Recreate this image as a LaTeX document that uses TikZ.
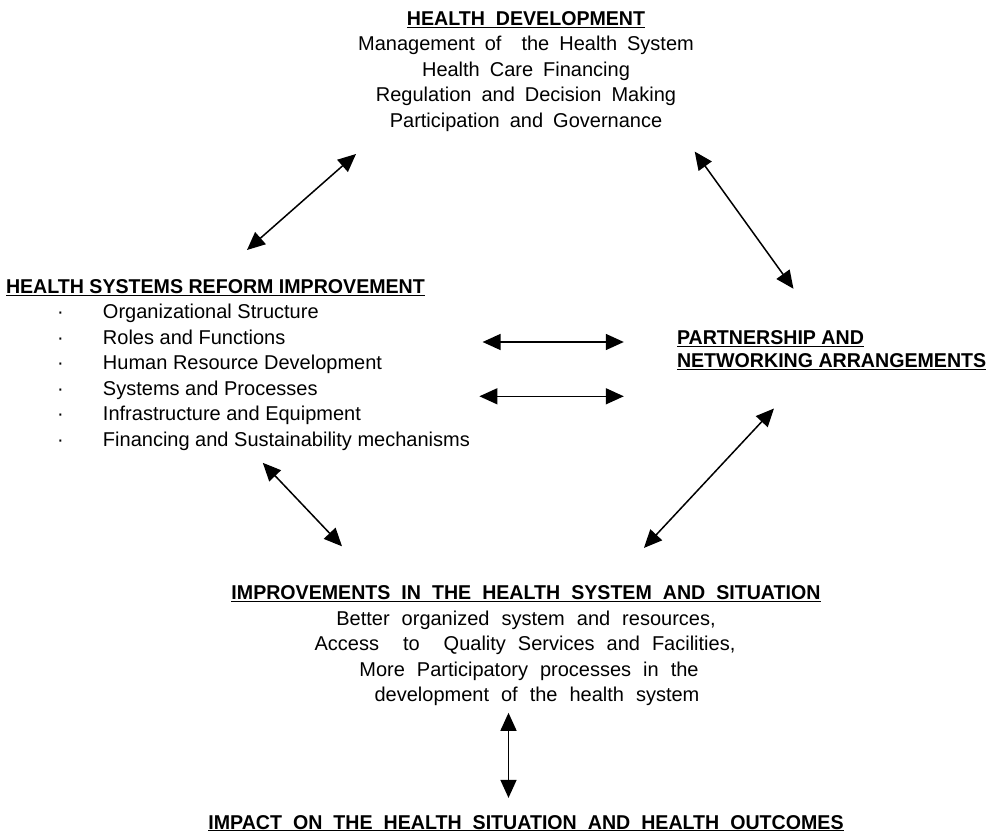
\documentclass[tikz,border=0pt]{standalone}
\usepackage{fontspec}
\setmainfont[BoldFeatures={FakeStretch=0.98}]{Liberation Sans}
\usetikzlibrary{arrows.meta}

\tikzset{
  txt/.style={anchor=base, inner sep=0pt, outer sep=0pt, font=\fontsize{20}{24}\selectfont},
  item/.style={txt, anchor=base west},
  wide/.style={txt, font={\fontsize{20}{24}\selectfont\spaceskip=10pt plus 1pt minus 1pt\relax}},
  wider/.style={txt, font={\fontsize{20}{24}\selectfont\spaceskip=12pt plus 1pt minus 1pt\relax}},
  head/.style={txt, font={\fontsize{20}{24}\selectfont\bfseries\spaceskip=11pt plus 1pt minus 1pt\relax}},
  lhead/.style={txt, anchor=base west, font=\fontsize{20}{24}\selectfont\bfseries},
  link/.style={{Triangle[length=18pt,width=16pt]}-{Triangle[length=18pt,width=16pt]}, line width=1.5pt},
}

\begin{document}
\begin{tikzpicture}[x=1pt, y=-1pt]
\useasboundingbox (0,0) rectangle (993,834);

\node[head] (dev) at (526,25.5) {\underline{HEALTH DEVELOPMENT}};
\node[wide] (dev1) at (526,50.5) {Management of\ \ the Health System};
\node[wide] (dev2) at (526,76.5) {Health Care Financing};
\node[wide] (dev3) at (526,102) {Regulation and Decision Making};
\node[wide] (dev4) at (526,128) {Participation and Governance};

\node[lhead] (hsr) at (6,294) {\underline{HEALTH SYSTEMS REFORM IMPROVEMENT}};
\node[item] (hsr1) at (57,318.7) {\makebox[46pt][l]{\textperiodcentered}Organizational Structure};
\node[item] (hsr2) at (57,344.2) {\makebox[46pt][l]{\textperiodcentered}Roles and Functions};
\node[item] (hsr3) at (57,369.7) {\makebox[46pt][l]{\textperiodcentered}Human Resource Development};
\node[item] (hsr4) at (57,395.2) {\makebox[46pt][l]{\textperiodcentered}Systems and Processes};
\node[item] (hsr5) at (57,420.7) {\makebox[46pt][l]{\textperiodcentered}Infrastructure and Equipment};
\node[item] (hsr6) at (57,446.2) {\makebox[46pt][l]{\textperiodcentered}Financing and Sustainability mechanisms};

\node[lhead] (pna1) at (677,344.5) {\underline{PARTNERSHIP AND}};
\node[lhead] (pna2) at (677,367.5) {\underline{NETWORKING ARRANGEMENTS}};

\node[head] (imp) at (526,599.2) {\underline{IMPROVEMENTS IN THE HEALTH SYSTEM AND SITUATION}};
\node[wider] (imp1) at (526,625) {Better organized system and resources,};
\node[wider] (imp2) at (525,650.5) {Access\ \ to\ \ Quality Services and Facilities,};
\node[wider] (imp3) at (529,676) {More Participatory processes in the};
\node[wider] (imp4) at (537,701.7) {development of the health system};

\node[head] (out) at (526,829) {\underline{IMPACT ON THE HEALTH SITUATION AND HEALTH OUTCOMES}};

\coordinate (hsrNE) at (247,250);
\coordinate (devSW) at (356,154);
\coordinate (devSE) at (694.7,151.6);
\coordinate (pnaNW) at (793.5,288.8);
\coordinate (hsrE1) at (482.6,342);
\coordinate (pnaW1) at (623.8,342);
\coordinate (hsrE2) at (479.4,396.3);
\coordinate (pnaW2) at (623.8,396.3);
\coordinate (hsrS) at (262.8,462.8);
\coordinate (impNW) at (342,546.3);
\coordinate (pnaS) at (774,408.5);
\coordinate (impNE) at (644,547.9);
\coordinate (impS) at (508.5,712.8);
\coordinate (outN) at (508.5,797.9);

\draw[link] (hsrNE) -- (devSW);
\draw[link] (devSE) -- (pnaNW);
\draw[link] (hsrE1) -- (pnaW1);
\draw[link] (hsrE2) -- (pnaW2);
\draw[link] (hsrS) -- (impNW);
\draw[link] (pnaS) -- (impNE);
\draw[link] (impS) -- (outN);
\end{tikzpicture}
\end{document}
